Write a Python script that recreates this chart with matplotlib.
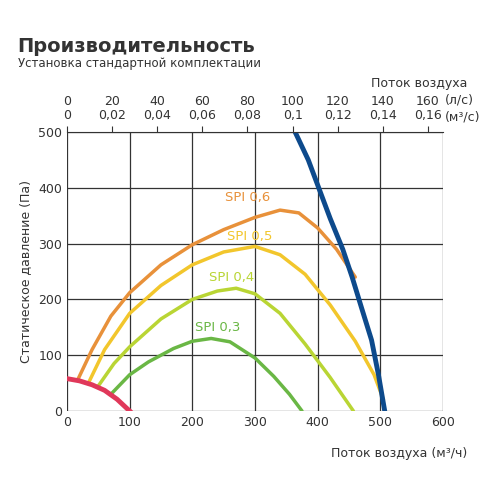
import matplotlib
matplotlib.use("Agg")
import matplotlib.pyplot as plt

red_x = [0, 20, 40, 60, 80, 100]
red_y = [58, 54, 47, 37, 21, 0]
blue_x = [364, 385, 403, 420, 440, 455, 470, 486, 497, 507]
blue_y = [500, 450, 396, 345, 290, 240, 185, 127, 65, 0]
spi6_x = [18, 40, 70, 100, 150, 200, 250, 300, 340, 370, 400, 430, 460]
spi6_y = [58, 110, 170, 212, 262, 298, 325, 347, 360, 355, 328, 290, 240]
spi5_x = [35, 60, 100, 150, 200, 250, 300, 340, 380, 420, 460, 490, 505]
spi5_y = [52, 110, 175, 225, 262, 285, 295, 280, 245, 190, 125, 65, 20]
spi4_x = [50, 75, 100, 150, 200, 240, 270, 300, 340, 380, 420, 457]
spi4_y = [45, 85, 115, 165, 200, 215, 220, 210, 175, 120, 60, 0]
spi3_x = [70, 100, 130, 170, 200, 230, 260, 300, 330, 355, 375]
spi3_y = [30, 65, 88, 112, 125, 130, 124, 95, 62, 30, 0]
labels = ["SPI 0,6", "SPI 0,5", "SPI 0,4", "SPI 0,3"]
label_pos = [(289, 383), (292, 312), (262, 240), (240, 150)]
colors = ["#e8913a", "#f2c62c", "#b9d534", "#6ab745"]
top_ls = [0, 20, 40, 60, 80, 100, 120, 140, 160]
top_m3s = ["0", "0,02", "0,04", "0,06", "0,08", "0,1", "0,12", "0,14", "0,16"]

fig = plt.figure(figsize=(5, 5), dpi=100)
ax = fig.add_axes([0.134, 0.178, 0.752, 0.558])
ax.set_xlim(0, 600); ax.set_ylim(0, 500)
ax.set_xticks(range(0, 601, 100)); ax.set_yticks(range(0, 501, 100))
ax.grid(True, color="#333333", lw=0.9)
for s in ax.spines.values():
    s.set_visible(False)
ax.tick_params(length=0, labelsize=9, colors="#333333")
ax.set_axisbelow(True)

for xs, ys, c in zip([spi6_x, spi5_x, spi4_x, spi3_x], [spi6_y, spi5_y, spi4_y, spi3_y], colors):
    ax.plot(xs, ys, color=c, lw=2.5, solid_capstyle="round", solid_joinstyle="round")
ax.plot(red_x, red_y, color="#e0385a", lw=3.5, solid_joinstyle="round")
ax.plot(blue_x, blue_y, color="#0d4a8c", lw=3.5, solid_joinstyle="round")
for t, (x, y), c in zip(labels, label_pos, colors):
    ax.text(x, y, t, color=c, fontsize=9.5, ha="center", va="center")

top = ax.twiny()
top.set_xlim(0, 600 / 3.6)
top.set_xticks(top_ls)
top.set_xticklabels([f"{a}\n{b}" for a, b in zip(top_ls, top_m3s)], fontsize=9, color="#333333", linespacing=1.1)
top.tick_params(length=4, color="#333333", pad=3)
for s in top.spines.values():
    s.set_visible(False)
top.spines["top"].set_visible(True)
top.spines["top"].set_color("#333333")

fig.text(0.89, 0.80, "(л/с)", fontsize=9, color="#333333", va="center")
fig.text(0.89, 0.766, "(м³/с)", fontsize=9, color="#333333", va="center")
fig.text(0.935, 0.825, "Поток воздуха", fontsize=9, color="#333333", ha="right")
fig.text(0.035, 0.895, "Производительность", fontsize=14, fontweight="bold", color="#333333")
fig.text(0.035, 0.865, "Установка стандартной комплектации", fontsize=8.5, color="#333333")
ax.set_ylabel("Статическое давление (Па)", fontsize=9, color="#333333")
fig.text(0.935, 0.085, "Поток воздуха (м³/ч)", fontsize=9, color="#333333", ha="right")
fig.savefig("out.png", dpi=100, facecolor="white")
